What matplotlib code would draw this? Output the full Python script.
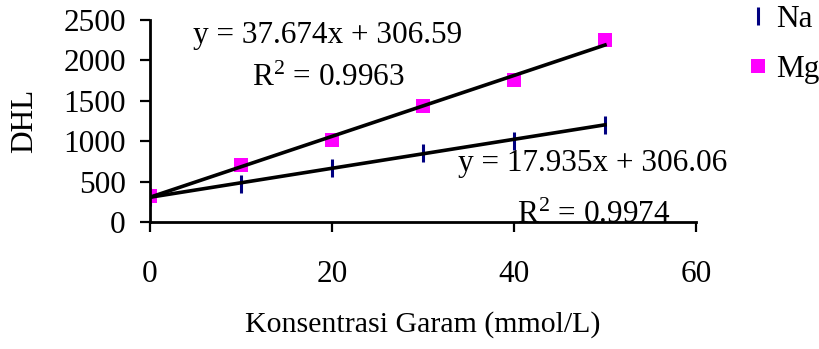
import numpy as np
import matplotlib
matplotlib.use('Agg')
import matplotlib.pyplot as plt

# measured conductivity (DHL) against salt concentration
konsentrasi = [0, 10, 20, 30, 40, 50]
dhl_na = [306, 470, 670, 848, 1000, 1200]
dhl_mg = [322, 705, 1010, 1440, 1760, 2252]

# linear trendlines (slope, intercept, R^2)
fit_na = (17.935, 306.06, 0.9974)
fit_mg = (37.674, 306.59, 0.9963)

x_ticks = [0, 20, 40, 60]
y_ticks = [0, 500, 1000, 1500, 2000, 2500]

plt.rcParams['font.family'] = ['Liberation Serif', 'DejaVu Serif']
plt.rcParams['mathtext.fontset'] = 'custom'
plt.rcParams['mathtext.rm'] = 'Liberation Serif'
plt.rcParams['mathtext.it'] = 'Liberation Serif:italic'
fs = 22.5

fig = plt.figure(figsize=(8.2, 3.49), dpi=100)
ax = fig.add_axes([150 / 820, 1 - 222 / 349, 546 / 820, 202 / 349])

xx = np.array([0, 50])
ax.plot(xx, fit_mg[0] * xx + fit_mg[1], color='black', lw=2.6, zorder=3)
ax.plot(xx, fit_na[0] * xx + fit_na[1], color='black', lw=2.6, zorder=3)

ax.plot(konsentrasi, dhl_na, ls='none', marker='|', ms=13, mew=2.2,
        color='#000080', label='Na', zorder=2)
ax.plot(konsentrasi, dhl_mg, ls='none', marker='s', ms=10, mew=0,
        color='#ff00ff', label='Mg', zorder=2)

ax.set_xlim(0, 60)
ax.set_ylim(0, 2500)
ax.set_xticks(x_ticks)
ax.set_yticks(y_ticks)
ax.spines['top'].set_visible(False)
ax.spines['right'].set_visible(False)
for s in ('left', 'bottom'):
    ax.spines[s].set_linewidth(2)
ax.tick_params(axis='both', direction='out', length=7.5, width=1.6,
               labelsize=fs)
ax.tick_params(axis='x', pad=20)
ax.tick_params(axis='y', pad=10)

ax.set_xlabel('Konsentrasi Garam (mmol/L)', fontsize=fs - 1, labelpad=16)
ax.set_ylabel('DHL', fontsize=fs, labelpad=17)

# trendline equations
ax.text(4.7, 2314, 'y = %.3fx + %.2f' % (fit_mg[0], fit_mg[1]),
        fontsize=fs, va='center')
ax.text(11.2, 1782, 'R$^2$ = %.4f' % fit_mg[2], fontsize=fs, va='center')
ax.text(33.8, 730, 'y = %.3fx + %.2f' % (fit_na[0], fit_na[1]),
        fontsize=fs, va='center')
ax.text(40.3, 80, 'R$^2$ = %.4f' % fit_na[2], fontsize=fs, va='center',
        clip_on=False)

ax.legend(loc='upper left', bbox_to_anchor=(742 / 820, 0.995),
          bbox_transform=fig.transFigure, frameon=False, fontsize=fs,
          handlelength=0.8, handletextpad=0.2, labelspacing=0.68,
          borderaxespad=0.0, borderpad=0.1)

fig.savefig('out.png', dpi=100)
